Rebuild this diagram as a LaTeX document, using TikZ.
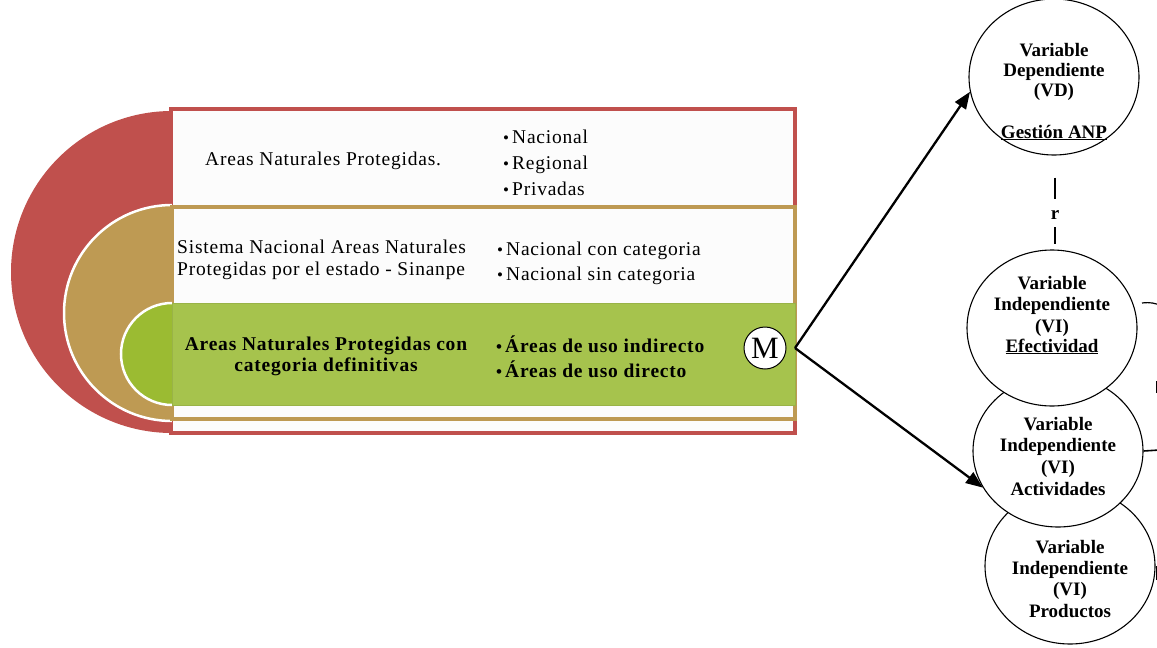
\documentclass[tikz,border=0pt]{standalone}
\usepackage{fontspec}
\setmainfont{Liberation Serif}
\newfontfamily\lsf[LetterSpace=4]{Liberation Serif}
\usetikzlibrary{shapes.geometric,arrows.meta}
\definecolor{anpred}{HTML}{C0504D}
\definecolor{anptan}{HTML}{BE9A53}
\definecolor{anpgreen}{HTML}{A6C34D}
\definecolor{anpgreenD}{HTML}{9BBB32}
\definecolor{anpwhite}{HTML}{FCFCFC}
\newcommand{\anpbul}{{\fontsize{17}{17}\selectfont\textbullet}\hspace{3pt}}
\begin{document}
\begin{tikzpicture}[x=1pt,y=-1pt,
  lt/.style={font=\lsf\fontsize{19.5}{22}\selectfont, inner sep=0, anchor=base west},
  ltb/.style={font=\lsf\bfseries\fontsize{19.5}{22}\selectfont, inner sep=0, anchor=base west},
  ltbc/.style={ltb, anchor=base},
  vt/.style={font=\bfseries\fontsize{19}{21}\selectfont, inner sep=0, anchor=base},
  vcirc/.style={ellipse, draw, line width=1.1pt, fill=white, minimum width=170, minimum height=156, inner sep=0},
  arr/.style={line width=2.3pt, -{Triangle[length=17pt,width=13pt]}},
  conn/.style={line width=1.2pt},
]
\useasboundingbox (0,0) rectangle (1157,648);
\clip (0,0) rectangle (1157,648);
% nested semicircles and bands
\fill[anpred] (172,111) arc[start angle=270,end angle=90,radius=161] -- cycle;
\draw[anpred, line width=4pt, fill=anpwhite] (171,109) rectangle (795,433);
\fill[anptan] (172,205) arc[start angle=270,end angle=90,radius=108] -- cycle;
\draw[white, line width=2.5pt] (172,205) arc[start angle=270,end angle=90,radius=108];
\draw[anptan, line width=4pt, fill=anpwhite] (172,207) rectangle (795,419);
\fill[anpgreenD] (172,303) arc[start angle=270,end angle=90,radius=51] -- cycle;
\draw[white, line width=2.5pt] (172,303) arc[start angle=270,end angle=90,radius=51];
\draw[fill=anpgreen, draw=anpgreen!92!black, line width=1pt] (172,303) rectangle (795,405);
% row texts
\node[lt] (t1) at (205,165) {Areas Naturales Protegidas.};
\node[lt] (b1a) at (503,143) {\anpbul Nacional};
\node[lt] (b1b) at (503,169) {\anpbul Regional};
\node[lt] (b1c) at (503,195) {\anpbul Privadas};
\node[lt] (t2a) at (177,253) {Sistema Nacional Areas Naturales};
\node[lt] (t2b) at (177,275) {Protegidas por el estado - Sinanpe};
\node[lt] (b2a) at (497,255) {\anpbul Nacional con categoria};
\node[lt] (b2b) at (497,280) {\anpbul Nacional sin categoria};
\node[ltbc] (t3a) at (326,350) {Areas Naturales Protegidas con};
\node[ltbc] (t3b) at (326,371) {categoria definitivas};
\node[ltb] (b3a) at (496,352) {\anpbul Áreas de uso indirecto};
\node[ltb] (b3b) at (496,377) {\anpbul Áreas de uso directo};
\node[circle, draw, line width=1pt, fill=white, minimum size=42, inner sep=0, font=\fontsize{31}{31}\selectfont] (M) at (765,348) {M};
\coordinate (mout) at (795,348);
% variable circles
\node[vcirc] (VIP) at (1070,566) {};
\node[vcirc, minimum height=152] (VIA) at (1058,451) {};
\node[vcirc] (VIE) at (1052,328) {};
\node[vcirc] (VD) at (1054,77) {};
\node[vt] (VD1) at (1054,56) {Variable};
\node[vt] (VD2) at (1054,76) {Dependiente};
\node[vt] (VD3) at (1054,96) {(VD)};
\node[vt] (VD4) at (1054,138) {\underline{Gestión ANP}};
\node[vt] (VIE1) at (1052,289) {Variable};
\node[vt] (VIE2) at (1052,310) {Independiente};
\node[vt] (VIE3) at (1052,332) {(VI)};
\node[vt] (VIE4) at (1052,352) {\underline{Efectividad}};
\node[vt] (VIA1) at (1058,430) {Variable};
\node[vt] (VIA2) at (1058,451) {Independiente};
\node[vt] (VIA3) at (1058,473) {(VI)};
\node[vt] (VIA4) at (1058,495) {Actividades};
\node[vt] (VIP1) at (1070,553) {Variable};
\node[vt] (VIP2) at (1070,574) {Independiente};
\node[vt] (VIP3) at (1070,595) {(VI)};
\node[vt] (VIP4) at (1070,617) {Productos};
\node[vt] (r) at (1055,219) {r};
\draw[conn, shorten <=22pt, shorten >=11pt] (VD.south -| r) -- (r.north);
\draw[conn, shorten <=8pt, shorten >=5pt] (r.south) -- (VIE.north -| r);
% arrows
\draw[arr] (mout) -- (VD.190);
\draw[arr] (mout) -- (VIA.206);
% partial marks at the right edge
\draw[conn] (1142,303) .. controls (1150,302) and (1155,303) .. (1162,306);
\draw[line width=1pt] (1156,381) -- (1156,393);
\draw[line width=1.6pt] (VIA.east) -- ++(16,-1);
\draw[line width=1pt] (1156,566) -- (1156,580);
\end{tikzpicture}
\end{document}
